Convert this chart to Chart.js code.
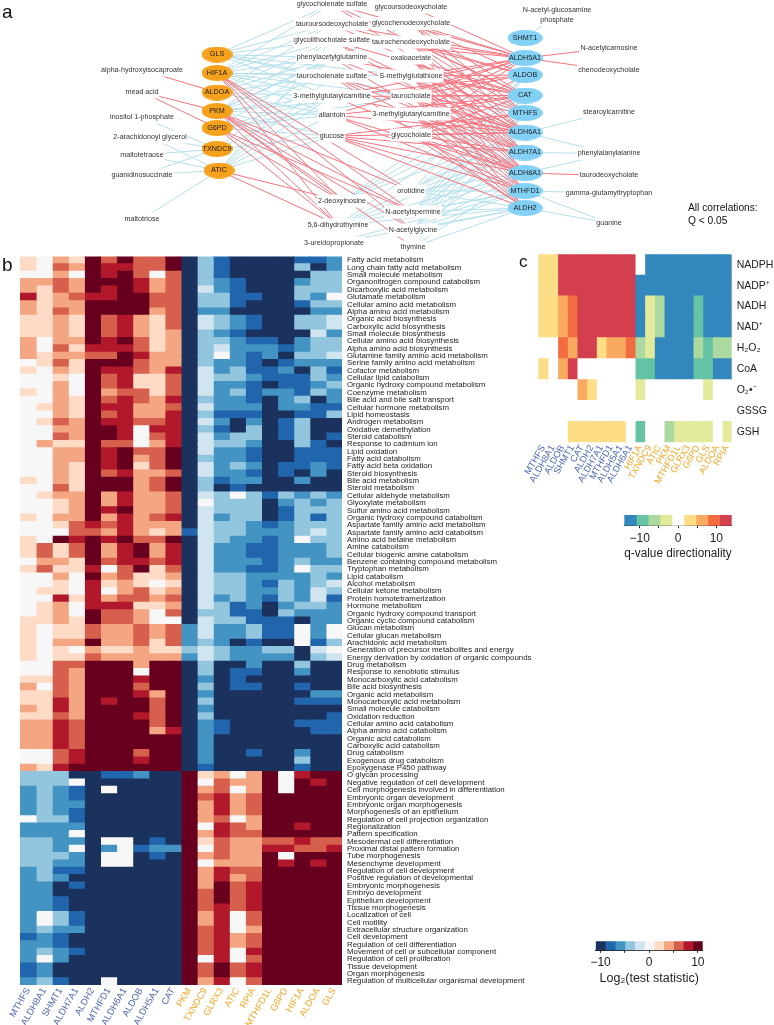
<!DOCTYPE html>
<html>
<head>
<meta charset="utf-8">
<script src="https://cdn.jsdelivr.net/npm/chart.js@4"></script>
<style>
html, body { margin: 0; padding: 0; background: #fff; }
body { position: relative; width: 774px; height: 1025px; overflow: hidden; font-family: "Liberation Sans", Arial, sans-serif; color: #111; }
canvas { position: absolute; }
.tag { position: absolute; line-height: 1; }
</style>
</head>
<body>
<canvas id="network" width="774" height="252" style="left:0px;top:0px"></canvas>
<canvas id="heat-b" width="560" height="769" style="left:0px;top:256px"></canvas>
<canvas id="heat-c" width="264" height="300" style="left:510px;top:254px"></canvas>
<canvas id="scale-c" width="140" height="46" style="left:610px;top:515px"></canvas>
<canvas id="scale-b" width="140" height="45" style="left:585px;top:941px"></canvas>
<div class="tag" style="left:2px;top:2px;font-size:19px">a</div>
<div class="tag" style="left:2px;top:255px;font-size:19px">b</div>
<div class="tag" style="left:519px;top:253px;font-size:17px">c</div>
<div class="tag" style="left:688px;top:202px;font-size:10.2px;line-height:12.5px">All correlations:<br>Q &lt; 0.05</div>
<script>
Chart.defaults.font.family = '"Liberation Sans", Arial, sans-serif';
Chart.defaults.animation = false;
Chart.defaults.responsive = false;
Chart.defaults.plugins.legend.display = false;
Chart.defaults.plugins.tooltip.enabled = false;

//panel a, network
const leftGenes = ['GLS', 'HIF1A', 'ALDOA', 'PKM', 'G6PD', 'TXNDC9', 'ATIC'];
const leftGeneX = [217, 217, 217, 217, 217, 217, 219];
const leftGeneY = [54.5, 73, 92.5, 111, 128, 149, 170.5];
const rightGenes = ['SHMT1', 'ALDH5A1', 'ALDOB', 'CAT', 'MTHFS', 'ALDH6A1', 'ALDH7A1', 'ALDH8A1', 'MTHFD1', 'ALDH2'];
const rightGeneX = [525, 525, 525, 525, 525, 525, 525, 525, 525, 525];
const rightGeneY = [38, 58, 75, 95.5, 113, 132.5, 152.5, 173, 191, 208];

// the * marks the second 3-methylglutarylcarnitine node, it is not printed
const metabolites = [
    'glycocholenate sulfate', 'tauroursodeoxycholate', 'glycolithocholate sulfate', 'phenylacetylglutamine',
    'taurocholenate sulfate', '3-methylglutarylcarnitine', 'allantoin', 'glucose',
    '2-deoxyinosine', '5,6-dihydrothymine', '3-ureidopropionate',
    'glycoursodeoxycholate', 'glycochenodeoxycholate', 'taurochenodeoxycholate', 'oxaloacetate',
    'S-methylglutathione', 'taurocholate', '3-methylglutarylcarnitine*', 'glycocholate',
    'orotidine', 'N-acetylspermine', 'N-acetylglycine', 'thymine',
    'alpha-hydroxyisocaproate', 'mead acid', 'inositol 1-phosphate', '2-arachidonoyl glycerol',
    'maltotetraose', 'guanidinosuccinate', 'maltotriose',
    'N-acetyl-glucosamine\nphosphate', 'N-acetylcarnosine', 'chenodeoxycholate', 'stearoylcarnitine',
    'phenylalanylalanine', 'taurodeoxycholate', 'gamma-glutamyltryptophan', 'guanine'
];
const metaboliteX = [332, 332, 332, 332, 332, 332, 332, 332, 342, 338, 334,
    411, 411, 411, 411, 411, 411, 411, 411, 411, 413, 413, 413,
    142, 142, 142, 150, 142, 142, 142,
    557, 609, 609, 609, 609, 609, 609, 609];
const metaboliteY = [4, 24, 40.5, 57.5, 76, 96.5, 115, 136, 201, 225, 243,
    7, 23.5, 42, 58, 76, 96, 114, 135, 191, 212, 230, 247,
    70, 92, 117, 137, 155, 175, 219,
    15, 48, 70, 112, 153.5, 175.5, 193, 223];

const blueEdges = [
    ['GLS', ['glycocholenate sulfate', 'tauroursodeoxycholate', 'glycolithocholate sulfate', 'phenylacetylglutamine', 'taurocholenate sulfate', '3-methylglutarylcarnitine', 'S-methylglutathione', 'taurocholate']],
    ['HIF1A', ['glycocholenate sulfate', 'tauroursodeoxycholate', 'glycolithocholate sulfate', 'phenylacetylglutamine', 'taurocholenate sulfate', '3-methylglutarylcarnitine', 'allantoin', 'S-methylglutathione', 'taurocholate']],
    ['ALDOA', ['tauroursodeoxycholate', 'glycolithocholate sulfate', 'phenylacetylglutamine', 'taurocholenate sulfate', '3-methylglutarylcarnitine', 'allantoin']],
    ['PKM', ['glycolithocholate sulfate', 'phenylacetylglutamine', 'taurocholenate sulfate', '3-methylglutarylcarnitine', 'allantoin', 'glucose', 'taurocholate', 'glycochenodeoxycholate']],
    ['G6PD', ['phenylacetylglutamine', '3-methylglutarylcarnitine', 'allantoin', 'glucose', 'taurocholate']],
    ['TXNDC9', ['phenylacetylglutamine', '3-methylglutarylcarnitine', 'glucose', 'inositol 1-phosphate', '2-arachidonoyl glycerol', 'maltotetraose', 'guanidinosuccinate']],
    ['ATIC', ['glycolithocholate sulfate', 'phenylacetylglutamine', 'taurocholenate sulfate', '3-methylglutarylcarnitine', 'allantoin', 'glucose', '2-arachidonoyl glycerol', 'maltotetraose', 'guanidinosuccinate', 'maltotriose']],
    ['SHMT1', ['N-acetyl-glucosamine\nphosphate']],
    ['ALDOB', ['2-deoxyinosine', 'orotidine', 'N-acetylspermine', 'N-acetylglycine']],
    ['CAT', ['2-deoxyinosine', 'N-acetylspermine', 'N-acetylglycine', '5,6-dihydrothymine']],
    ['MTHFS', ['2-deoxyinosine', 'orotidine', 'N-acetylspermine', 'N-acetylglycine', 'thymine']],
    ['ALDH6A1', ['2-deoxyinosine', 'orotidine', 'N-acetylspermine', 'N-acetylglycine', '5,6-dihydrothymine', 'stearoylcarnitine', 'phenylalanylalanine']],
    ['ALDH7A1', ['orotidine', 'N-acetylspermine', 'N-acetylglycine', '5,6-dihydrothymine', 'phenylalanylalanine']],
    ['ALDH8A1', ['orotidine', 'N-acetylspermine', 'N-acetylglycine', '5,6-dihydrothymine', 'thymine', 'phenylalanylalanine']],
    ['MTHFD1', ['orotidine', 'N-acetylspermine', 'N-acetylglycine', '5,6-dihydrothymine', '3-ureidopropionate', 'gamma-glutamyltryptophan', 'guanine']],
    ['ALDH2', ['orotidine', 'N-acetylspermine', 'N-acetylglycine', '5,6-dihydrothymine', 'thymine', '3-ureidopropionate', 'guanine']]
];
const redEdges = [
    ['ALDOA', ['alpha-hydroxyisocaproate']],
    ['HIF1A', ['2-deoxyinosine', '5,6-dihydrothymine', 'N-acetylspermine', 'N-acetylglycine', 'orotidine']],
    ['PKM', ['mead acid', '2-deoxyinosine', '5,6-dihydrothymine', 'N-acetylspermine', 'N-acetylglycine', 'orotidine', 'thymine']],
    ['G6PD', ['mead acid', '2-deoxyinosine', '5,6-dihydrothymine', 'N-acetylspermine']],
    ['ATIC', ['2-deoxyinosine', '5,6-dihydrothymine']],
    ['ALDH5A1', ['glycocholenate sulfate', 'tauroursodeoxycholate', 'glycolithocholate sulfate', '3-methylglutarylcarnitine', 'allantoin', 'glycoursodeoxycholate', 'glycochenodeoxycholate', 'taurochenodeoxycholate', 'S-methylglutathione', 'taurocholate', '3-methylglutarylcarnitine*', 'glycocholate', 'N-acetylcarnosine', 'chenodeoxycholate']],
    ['ALDOB', ['tauroursodeoxycholate', '3-methylglutarylcarnitine', 'glycochenodeoxycholate', 'taurochenodeoxycholate', 'S-methylglutathione', 'taurocholate', 'glycocholate']],
    ['CAT', ['glycocholenate sulfate', 'glycolithocholate sulfate', 'phenylacetylglutamine', '3-methylglutarylcarnitine', 'allantoin', 'glycochenodeoxycholate', 'taurochenodeoxycholate', 'oxaloacetate', 'S-methylglutathione', 'taurocholate', '3-methylglutarylcarnitine*', 'glycocholate']],
    ['MTHFS', ['tauroursodeoxycholate', 'glucose', 'glycochenodeoxycholate', 'taurochenodeoxycholate', 'S-methylglutathione', 'taurocholate', 'glycocholate']],
    ['ALDH6A1', ['glycocholenate sulfate', 'glycolithocholate sulfate', 'phenylacetylglutamine', 'taurocholenate sulfate', '3-methylglutarylcarnitine', 'allantoin', 'glucose', 'glycochenodeoxycholate', 'taurochenodeoxycholate', 'oxaloacetate', 'S-methylglutathione', 'taurocholate', '3-methylglutarylcarnitine*', 'glycocholate']],
    ['ALDH7A1', ['glycolithocholate sulfate', 'taurocholenate sulfate', 'glucose', 'taurochenodeoxycholate', 'oxaloacetate', 'S-methylglutathione', 'taurocholate', '3-methylglutarylcarnitine*', 'glycocholate']],
    ['ALDH8A1', ['phenylacetylglutamine', 'taurocholenate sulfate', '3-methylglutarylcarnitine', 'allantoin', 'glucose', 'taurochenodeoxycholate', 'oxaloacetate', 'S-methylglutathione', 'taurocholate', '3-methylglutarylcarnitine*', 'glycocholate', 'taurodeoxycholate']],
    ['MTHFD1', ['allantoin', 'glucose', 'oxaloacetate', 'S-methylglutathione', 'taurocholate', '3-methylglutarylcarnitine*', 'glycocholate']],
    ['ALDH2', ['taurocholenate sulfate', 'glucose', 'S-methylglutathione', 'taurocholate', '3-methylglutarylcarnitine*', 'glycocholate']]
];

//panel b, heatmap
const bGenes = ['MTHFS', 'ALDH8A1', 'SHMT1', 'ALDH7A1', 'ALDH2', 'MTHFD1', 'ALDH6A1', 'ALDOB', 'ALDH5A1', 'CAT',
    'PKM', 'TXNDC9', 'GLRX3', 'ATIC', 'RPIA', 'MTHFD1L', 'G6PD', 'HIF1A', 'ALDOA', 'GLS'];
const bTerms = [
    'Fatty acid metabolism', 'Long chain fatty acid metabolism', 'Small molecule metabolism', 'Organonitrogen compound catabolism',
    'Dicarboxylic acid metabolism', 'Glutamate metabolism', 'Cellular amino acid metabolism', 'Alpha amino acid metabolism',
    'Organic acid biosynthesis', 'Carboxylic acid biosynthesis', 'Small molecule biosynthesis', 'Cellular amino acid biosynthesis',
    'Alpha amino acid biosynthesis', 'Glutamine family amino acid metabolism', 'Serine family amino acid metabolism', 'Cofactor metabolism',
    'Cellular lipid catabolism', 'Organic hydroxy compound metabolism', 'Coenzyme metabolism', 'Bile acid and bile salt transport',
    'Cellular hormone metabolism', 'Lipid homeostasis', 'Androgen metabolism', 'Oxidative demethylation', 'Steroid catabolism',
    'Response to cadmium ion', 'Lipid oxidation', 'Fatty acid catabolism', 'Fatty acid beta oxidation', 'Steroid biosynthesis',
    'Bile acid metabolism', 'Steroid metabolism', 'Cellular aldehyde metabolism', 'Glyoxylate metabolism', 'Sulfur amino acid metabolism',
    'Organic hydroxy compound catabolism', 'Aspartate family amino acid metabolism', 'Aspartate family amino acid catabolism',
    'Amino acid betaine metabolism', 'Amine catabolism', 'Cellular biogenic amine catabolism', 'Benzene containing compound metabolism',
    'Tryptophan metabolism', 'Lipid catabolism', 'Alcohol metabolism', 'Cellular ketone metabolism', 'Protein homotetramerization',
    'Hormone metabolism', 'Organic hydroxy compound transport', 'Organic cyclic compound catabolism', 'Glucan metabolism',
    'Cellular glucan metabolism', 'Arachidonic acid metabolism', 'Generation of precursor metabolites and energy',
    'Energy derivation by oxidation of organic compounds', 'Drug metabolism', 'Response to xenobiotic stimulus',
    'Monocarboxylic acid catabolism', 'Bile acid biosynthesis', 'Organic acid metabolism', 'Monocarboxylic acid metabolism',
    'Small molecule catabolism', 'Oxidation reduction', 'Cellular amino acid catabolism', 'Alpha amino acid catabolism',
    'Organic acid catabolism', 'Carboxylic acid catabolism', 'Drug catabolism', 'Exogenous drug catabolism', 'Epoxygenase P450 pathway',
    'O glycan processing', 'Negative regulation of cell development', 'Cell morphogenesis involved in differentiation',
    'Embryonic organ development', 'Embryonic organ morphogenesis', 'Morphogenesis of an epithelium',
    'Regulation of cell projection organization', 'Regionalization', 'Pattern specification', 'Mesodermal cell differentiation',
    'Proximal distal pattern formation', 'Tube morphogenesis', 'Mesenchyme development', 'Regulation of cell development',
    'Positive regulation of developmental', 'Embryonic morphogenesis', 'Embryo development', 'Epithelium development',
    'Tissue morphogenesis', 'Localization of cell', 'Cell motility', 'Extracellular structure organization', 'Cell development',
    'Regulation of cell differentiation', 'Movement of cell or subcellular component', 'Regulation of cell proliferation',
    'Tissue development', 'Organ morphogenesis', 'Regulation of multicellular organismal development'
];
// colour bin of each cell, -5 to 5, a bin is 2 Log2 units wide
const bValues = [
    [1,0,2,1,5,3,5,3,3,5,-5,-2,-4,-5,-5,-5,-5,-4,-4,-3],
    [1,0,3,2,5,4,4,3,3,5,-5,-2,-4,-5,-5,-5,-5,-2,-5,-3],
    [0,0,2,0,5,4,5,3,0,3,-5,-2,-4,-5,-5,-5,-5,-5,-2,-2],
    [2,2,3,2,5,5,5,4,2,3,-5,-2,-3,-4,-5,-5,-5,-3,-2,-2],
    [2,1,3,2,5,4,5,4,2,3,-5,-1,-3,-4,-5,-5,-5,-2,-2,-2],
    [4,1,2,3,4,4,5,5,3,3,-5,-2,-2,-4,-4,-5,-5,-2,-3,0],
    [2,1,2,2,5,5,5,5,3,3,-5,-2,-2,-4,-5,-5,-5,-4,-2,-2],
    [2,1,3,2,5,5,5,5,2,3,-5,-3,-3,-5,-5,-5,-5,-5,-3,-3],
    [1,1,2,1,5,3,4,2,1,3,-5,-1,-2,-3,-4,-5,-5,-2,-2,-1],
    [1,1,2,1,5,3,4,2,1,3,-5,-1,-2,-3,-4,-5,-5,-2,-2,-1],
    [1,1,2,1,5,3,4,2,1,2,-5,-2,-3,-4,-5,-5,-5,-5,-1,-3],
    [2,0,2,2,5,4,5,3,1,2,-5,-2,-2,-3,-4,-4,-5,-3,-2,-2],
    [2,0,3,1,4,4,4,3,1,2,-5,-2,-1,-3,-3,-3,-4,-3,-2,-2],
    [2,1,2,2,3,3,5,4,2,2,-5,-2,0,-3,-4,-3,-5,-2,-2,-1],
    [0,1,3,1,5,5,5,3,2,2,-5,-2,-3,-3,-4,-5,-4,-3,-3,-3],
    [1,0,2,1,5,4,4,3,2,4,-5,-1,-3,-2,-4,-4,-3,-5,-2,-4],
    [0,0,1,0,5,3,4,1,1,3,-5,-1,-2,-2,-3,-4,-4,-4,-2,-3],
    [0,0,2,0,5,3,4,1,1,3,-5,-1,-3,-3,-4,-5,-4,-4,-3,-2],
    [1,0,2,0,5,2,3,3,1,3,-5,-1,-3,-2,-4,-3,-3,-4,-2,-3],
    [0,0,2,1,5,3,4,3,2,4,-5,-2,-3,-3,-4,-5,-3,-2,-5,-3],
    [0,1,2,1,5,4,4,2,2,3,-5,-1,-3,-3,-3,-5,-3,-3,-4,-4],
    [0,0,2,1,5,3,4,2,2,4,-5,-2,-4,-4,-4,-5,-5,-4,-4,-2],
    [0,1,3,2,5,4,4,3,3,4,-5,-1,-3,-5,-3,-5,-4,-2,-5,-5],
    [0,0,2,2,5,5,4,0,4,4,-5,-2,-4,-5,-2,-5,-4,-2,-5,-5],
    [0,0,3,2,5,5,4,0,3,4,-5,-1,-3,-2,-2,-5,-4,-2,-5,-4],
    [0,2,1,1,5,3,3,0,2,4,-5,-1,-2,-2,-3,-5,-5,-2,-4,-5],
    [0,0,2,2,5,4,5,3,3,5,-5,-1,-3,-3,-4,-5,-5,-4,-4,-4],
    [0,0,2,2,5,4,5,2,3,5,-5,-2,-3,-3,-4,-5,-5,-4,-4,-4],
    [0,0,2,1,5,4,5,1,3,5,-5,-1,-3,-2,-3,-5,-4,-4,-3,-4],
    [0,0,2,1,5,3,4,2,2,3,-5,-1,-3,-3,-4,-5,-4,-5,-3,-5],
    [1,0,2,1,5,5,5,2,3,5,-5,-2,-4,-3,-3,-5,-5,-3,-5,-5],
    [0,0,3,1,5,5,5,2,3,5,-5,-2,-5,-4,-5,-5,-5,-5,-5,-5],
    [0,1,2,2,5,2,4,2,2,3,-5,-1,-2,0,-2,-4,-2,-3,-2,-3],
    [0,0,1,2,5,2,4,2,2,3,-5,0,-2,-2,-2,-5,-3,-2,-3,-2],
    [0,0,1,2,5,4,5,2,2,3,-5,-1,-2,-2,-2,-5,-4,-2,-2,-2],
    [1,0,2,2,5,2,4,2,3,4,-5,-1,-3,-2,-2,-5,-4,-2,-4,-2],
    [0,0,1,3,4,3,4,2,2,2,-5,-1,-2,-2,-3,-4,-3,-2,-2,-2],
    [0,0,0,3,3,2,4,2,1,2,-4,-1,-2,-2,-3,-3,-3,-2,-1,-2],
    [1,0,5,4,5,4,5,3,3,5,-5,-1,-2,-3,-3,-4,-3,0,-2,-2],
    [1,3,1,3,5,2,4,5,2,4,-5,-1,-3,-3,-4,-4,-3,-3,-3,-2],
    [1,3,1,3,5,2,4,5,2,4,-5,-1,-3,-3,-4,-4,-3,-3,-3,-2],
    [0,2,2,1,5,3,4,4,3,4,-5,-1,-3,-3,-3,-4,-3,-2,-3,-3],
    [1,3,1,1,4,0,3,5,1,3,-5,-1,-3,-3,-4,-4,-3,0,-2,-2],
    [0,0,2,0,5,2,3,1,1,2,-5,-1,-2,-2,-3,-3,-3,-3,-2,-3],
    [0,0,1,0,4,1,2,1,0,1,-5,-1,-2,-2,-3,-4,-2,-3,-2,-1],
    [0,1,1,0,4,0,2,3,1,2,-5,-1,-2,-2,-3,-3,-2,-3,-1,-2],
    [0,0,4,1,4,2,3,3,2,3,-5,-1,-3,-2,-3,-4,-2,-3,-1,-4],
    [0,1,2,0,4,4,4,1,1,2,-5,-1,-2,-4,-3,-5,-3,-2,-2,-3],
    [0,1,2,0,5,3,3,2,0,3,-5,-2,-2,-4,-4,-5,-2,-3,-3,-3],
    [1,1,2,1,5,3,3,2,0,0,-5,-1,-2,-2,-4,-4,-4,-5,-3,-3],
    [1,0,1,1,3,2,2,3,2,3,-3,-1,-3,-3,-2,-4,-4,0,-3,0],
    [1,0,1,1,3,2,2,3,2,3,-3,-1,-3,-3,-2,-4,-4,0,-3,0],
    [1,0,2,2,5,2,2,3,1,3,-3,-2,-3,-5,-4,-5,-5,0,-4,-2],
    [1,0,1,0,2,1,1,2,1,1,-2,-1,-2,-3,-3,-2,-2,-5,-1,0],
    [1,0,1,1,3,2,2,2,2,2,-3,-1,-2,-3,-3,-3,-3,-5,-2,-1],
    [0,0,3,3,5,5,5,2,5,5,-5,-2,-5,-5,-3,-5,-5,-2,-5,-5],
    [0,0,3,2,5,5,5,0,5,5,-5,-2,-5,-4,-4,-5,-5,-3,-5,-5],
    [1,1,3,2,5,5,5,4,5,5,-5,-3,-5,-4,-5,-5,-5,-5,-5,-5],
    [2,0,3,2,5,5,5,3,5,5,-5,-2,-5,-4,-4,-5,-5,-4,-5,-5],
    [1,1,3,2,5,5,5,4,2,5,-5,-3,-5,-5,-5,-5,-5,-5,-3,-3],
    [1,1,4,2,5,4,5,5,3,5,-5,-2,-5,-5,-5,-5,-5,-4,-4,-4],
    [2,1,4,2,5,5,5,5,3,5,-5,-3,-5,-5,-5,-5,-5,-5,-5,-5],
    [1,1,3,2,5,5,5,4,3,5,-5,-2,-5,-5,-5,-5,-5,-5,-5,-4],
    [2,2,4,3,5,5,5,5,3,5,-5,-3,-4,-5,-5,-5,-5,-4,-4,-4],
    [2,2,4,3,5,5,5,5,2,4,-5,-3,-4,-5,-5,-5,-5,-5,-4,-4],
    [2,2,4,3,5,5,5,5,5,5,-5,-3,-5,-5,-5,-5,-5,-5,-5,-5],
    [2,2,4,3,5,5,5,5,5,5,-5,-3,-5,-5,-5,-5,-5,-5,-5,-5],
    [0,0,3,4,5,5,5,3,5,5,-5,-3,-5,-5,-4,-5,-5,-3,-5,-5],
    [0,0,3,4,5,5,5,4,5,5,-5,-3,-5,-5,-5,-5,-5,-2,-5,-5],
    [2,1,4,5,5,5,5,5,5,5,-5,-4,-5,-5,-5,-5,-5,-4,-5,-5],
    [-2,-2,-2,-5,-5,-4,-4,-3,-5,-5,5,1,2,0,2,5,0,4,5,5],
    [-2,-2,-2,0,-5,-5,-5,-5,-5,-5,5,0,3,2,2,5,0,5,4,5],
    [-3,-2,-3,-4,-5,0,-5,-5,-5,-5,5,2,3,0,2,5,0,5,5,5],
    [-3,-2,-3,-4,-5,-5,-5,-5,-5,-5,5,3,4,2,3,5,5,5,5,5],
    [-3,-2,-3,-3,-5,-5,-5,-5,-5,-5,5,2,4,2,3,5,5,5,5,5],
    [-3,-2,-3,-4,-5,-5,-5,-5,-5,-5,5,2,4,2,3,5,5,5,5,5],
    [0,-2,-2,-4,-5,-5,-5,-5,-5,-5,5,2,3,0,2,5,5,5,5,5],
    [-3,-3,-3,-3,-5,-5,-5,-5,-5,-5,5,0,4,3,2,5,5,4,5,5],
    [-3,-3,-3,0,-5,-5,-5,-5,-5,-5,5,2,4,3,3,5,5,5,5,5],
    [-2,-2,-3,-3,-5,0,0,-5,-4,-5,5,1,3,2,2,3,3,4,3,3],
    [-2,-2,-3,0,-5,-3,0,-4,-3,-3,5,0,3,2,2,4,4,3,3,4],
    [-2,-2,-2,-3,-5,0,0,-5,-4,-5,5,2,3,2,2,5,0,5,5,5],
    [-2,-2,-3,-3,-5,0,0,-5,-5,-5,5,0,2,2,2,5,4,5,4,5],
    [-3,-2,-4,-4,-5,-5,-5,-5,-5,-5,5,2,4,3,3,5,5,5,5,5],
    [-3,-2,-3,-5,-5,-5,-5,-5,-5,-5,5,2,4,2,3,5,5,5,5,5],
    [-3,-3,-5,-4,-5,-5,-5,-5,-5,-5,5,2,5,3,4,5,5,5,5,5],
    [-3,-3,-5,-5,-5,-5,-5,-5,-5,-5,5,3,5,3,4,5,5,5,5,5],
    [-3,-3,-4,-5,-5,-5,-5,-5,-5,-5,5,3,5,3,4,5,5,5,5,5],
    [-3,-3,-4,-5,-5,-5,-5,-5,-5,-5,5,3,4,3,4,5,5,5,5,5],
    [-3,0,-2,-4,-5,-5,-5,-5,-5,-5,5,2,4,0,3,5,5,5,5,5],
    [-3,0,-2,-4,-5,-5,-5,-5,-5,-5,5,2,4,0,3,5,5,5,5,5],
    [-3,-2,-3,-3,-5,-5,-5,-5,-5,-5,5,3,4,0,2,5,5,5,5,5],
    [-4,-3,-4,-5,-5,-5,-5,-5,-5,-5,5,3,4,2,3,5,5,5,5,5],
    [-3,-3,-4,-5,-5,-5,-5,-5,-5,-5,5,3,4,2,3,5,5,5,5,5],
    [-3,-2,-3,-4,-5,-5,-5,-5,-5,-5,5,3,4,0,4,5,5,5,5,5],
    [-3,0,-3,-5,-5,-5,-5,-5,-5,-5,5,0,4,0,3,5,5,5,5,5],
    [-4,-3,-5,-5,-5,-5,-5,-5,-5,-5,5,3,5,3,4,5,5,5,5,5],
    [-4,-3,-5,-5,-5,-5,-5,-5,-5,-5,5,3,5,3,4,5,5,5,5,5],
    [-3,-2,-4,-5,-5,0,-5,-5,-5,-5,5,2,4,0,3,5,5,5,5,5]
];
const bPalette = ['#1b325f', '#2166ac', '#4393c3', '#92c5de', '#d1e5f0', '#f7f7f7', '#fddbc7', '#f4a582', '#d6604d', '#b2182b', '#67001f'];
const bBreaks = [-11, -9, -7, -5, -3, -1, 1, 3, 5, 7, 9, 11];

//panel c, heatmap
const cGenes = ['MTHFS', 'ALDH8A1', 'ALDOB', 'SHMT1', 'CAT', 'ALDH2', 'ALDH7A1', 'MTHFD1', 'ALDH5A1', 'ALDH6A1',
    'HIF1A', 'TXNDC9', 'ATIC', 'PKM', 'MTHFD1L', 'GLRX3', 'G6PD', 'GLS', 'ALDOA', 'RPIA'];
const cCofactors = ['NADPH', 'NADP⁺', 'NADH', 'NAD⁺', 'H₂O₂', 'CoA', 'O₂•⁻', 'GSSG', 'GSH'];
// colour bin of each cell, -4 to 4, 0 is white
const cValues = [
    [1,1,4,4,4,4,4,4,4,4,0,-4,-4,-4,-4,-4,-4,-4,-4,-4],
    [1,1,4,4,4,4,4,4,4,4,-4,-4,-4,-4,-4,-4,-4,-4,-4,-4],
    [1,1,2,3,4,4,4,4,4,4,-4,-1,-2,-4,-4,-4,-3,-4,-4,-4],
    [1,1,2,3,4,4,4,4,4,4,-4,-1,-2,-4,-4,-4,-3,-4,-4,-4],
    [0,0,3,2,4,4,1,2,2,3,-2,-1,-4,-4,-4,-4,-2,-3,-2,-2],
    [1,0,2,4,0,0,0,0,0,0,-3,-3,-4,-4,-4,-4,-3,-3,-4,-4],
    [0,0,0,0,2,1,0,0,0,0,-1,0,0,0,0,0,0,-1,0,0],
    [0,0,0,0,0,0,0,0,0,0,0,0,0,0,0,0,0,0,0,0],
    [0,0,0,1,1,1,1,1,1,0,-3,0,0,-2,-1,-1,-1,-1,0,-1]
];
const cPalette = ['#3288bd', '#66c2a5', '#abd9a0', '#e4ea9c', '#ffffff', '#fddd85', '#faa961', '#f36b40', '#d43f50'];
const cBreaks = [-14, -10.89, -7.78, -4.67, -1.56, 1.56, 4.67, 7.78, 10.89, 14];

const geneBlue = '#4d66b5';
const geneOrange = '#f5a524';

function nodePos(name) {
    let i = leftGenes.indexOf(name);
    if (i >= 0) return {x: leftGeneX[i], y: leftGeneY[i]};
    i = rightGenes.indexOf(name);
    if (i >= 0) return {x: rightGeneX[i], y: rightGeneY[i]};
    i = metabolites.indexOf(name);
    return {x: metaboliteX[i], y: metaboliteY[i]};
}

function edgePoints(edges) {
    const out = [];
    edges.forEach(function (e) {
        e[1].forEach(function (m) {
            out.push(nodePos(e[0]), nodePos(m), {x: NaN, y: NaN});
        });
    });
    return out;
}

function ellipse(w, h, color) {
    const c = document.createElement('canvas');
    c.width = w;
    c.height = h;
    const ctx = c.getContext('2d');
    ctx.fillStyle = color;
    ctx.beginPath();
    ctx.ellipse(w / 2, h / 2, w / 2, h / 2, 0, 0, Math.PI * 2);
    ctx.fill();
    return c;
}

const networkLabels = {
    id: 'networkLabels',
    afterDatasetDraw(chart, args) {
        // red edges are finished here, nodes still come on top
        if (args.index !== 2) return;
        const ctx = chart.ctx;
        ctx.save();
        ctx.font = '7.15px "Liberation Sans", Arial, sans-serif';
        ctx.textAlign = 'center';
        ctx.textBaseline = 'middle';
        metabolites.forEach(function (name, i) {
            const lines = name.replace('*', '').split('\n');
            const px = chart.scales.x.getPixelForValue(metaboliteX[i]);
            const py = chart.scales.y.getPixelForValue(metaboliteY[i]);
            const w = Math.max.apply(null, lines.map(l => ctx.measureText(l).width)) + 2;
            const h = 13 + (lines.length - 1) * 9;
            ctx.fillStyle = '#fff';
            ctx.fillRect(px - w / 2, py - h / 2, w, h);
            ctx.fillStyle = '#333';
            lines.forEach(function (l, k) {
                ctx.fillText(l, px, py + (k - (lines.length - 1) / 2) * 9.5);
            });
        });
        ctx.restore();
    },
    afterDatasetsDraw(chart) {
        const ctx = chart.ctx;
        ctx.save();
        ctx.font = '7.2px "Liberation Sans", Arial, sans-serif';
        ctx.textAlign = 'center';
        ctx.textBaseline = 'middle';
        ctx.fillStyle = '#1c1c1c';
        leftGenes.concat(rightGenes).forEach(function (g) {
            const p = nodePos(g);
            ctx.fillText(g, chart.scales.x.getPixelForValue(p.x), chart.scales.y.getPixelForValue(p.y));
        });
        ctx.restore();
    }
};

var networkChart = new Chart(document.getElementById('network'), {
    type: 'scatter',
    data: {
        datasets: [{
            data: leftGenes.map(nodePos),
            pointStyle: ellipse(31, 16, '#f5a11b'),
            pointRadius: 10
        }, {
            data: rightGenes.map(nodePos),
            pointStyle: ellipse(35, 16, '#83d0f5'),
            pointRadius: 10
        }, {
            data: edgePoints(redEdges),
            showLine: true,
            borderColor: '#f5747f',
            borderWidth: 1,
            pointRadius: 0,
            spanGaps: false
        }, {
            data: edgePoints(blueEdges),
            showLine: true,
            borderColor: '#b4e0ea',
            borderWidth: 1,
            pointRadius: 0,
            spanGaps: false
        }]
    },
    options: {
        layout: {padding: 0, autoPadding: false},
        scales: {
            x: {display: false, min: 0, max: 774},
            y: {display: false, min: 0, max: 252, reverse: true}
        }
    },
    plugins: [networkLabels]
});

// one stacked horizontal bar of width 1 per cell
function heatConfig(rows, rowNames, genes, palette, zero, opts) {
    const datasets = genes.map(function (g, c) {
        return {
            label: g,
            data: rows.map(() => 1),
            backgroundColor: rows.map(r => palette[r[c] + zero]),
            barPercentage: 1,
            categoryPercentage: 1,
            borderWidth: 0,
            inflateAmount: 0.5
        };
    });
    return {
        type: 'bar',
        data: {labels: rowNames, datasets: datasets},
        options: {
            indexAxis: 'y',
            layout: {padding: {left: opts.left, top: opts.top, right: 0, bottom: 0}},
            scales: {
                x: {
                    stacked: true,
                    min: 0,
                    max: genes.length,
                    grid: {display: false, drawTicks: false},
                    border: {display: false},
                    afterBuildTicks(scale) {
                        scale.ticks = genes.map((g, i) => ({value: i + 0.5}));
                    },
                    afterFit(scale) {
                        scale.height = opts.bottom;
                        scale.paddingLeft = 0;
                        scale.paddingRight = 0;
                    },
                    ticks: {
                        autoSkip: false,
                        minRotation: 60,
                        maxRotation: 60,
                        padding: 1,
                        font: {size: 9.3},
                        callback: (v, i) => genes[i],
                        color: ctx => ctx.index < 10 ? geneBlue : geneOrange
                    }
                },
                y: {
                    stacked: true,
                    position: 'right',
                    grid: {display: false, drawTicks: false},
                    border: {display: false},
                    afterFit(scale) {
                        scale.width = opts.right;
                        scale.paddingTop = 0;
                        scale.paddingBottom = 0;
                    },
                    ticks: {autoSkip: false, padding: opts.pad, color: '#222', font: {size: opts.size}}
                }
            }
        }
    };
}

var heatB = new Chart(document.getElementById('heat-b'),
    heatConfig(bValues, bTerms, bGenes, bPalette, 5, {left: 20, top: 0.5, bottom: 40, right: 218, pad: 5, size: 7.85}));
var heatC = new Chart(document.getElementById('heat-c'),
    heatConfig(cValues, cCofactors, cGenes, cPalette, 4, {left: 28.3, top: 0.3, bottom: 111.7, right: 42.3, pad: 5, size: 10.5}));

// colour key: one floating bar per colour
function keyConfig(breaks, palette, title, area, left, right, top) {
    const datasets = palette.map(function (col, i) {
        return {
            data: [[breaks[i], breaks[i + 1]]],
            backgroundColor: col,
            barPercentage: 1,
            categoryPercentage: 1
        };
    });
    return {
        type: 'bar',
        data: {labels: [''], datasets: datasets},
        options: {
            indexAxis: 'y',
            layout: {padding: {left: left, right: right, top: top, bottom: 0}},
            scales: {
                x: {
                    min: breaks[0],
                    max: breaks[breaks.length - 1],
                    grid: {drawOnChartArea: false, tickLength: 2.5, color: '#222'},
                    border: {display: true, color: '#222'},
                    afterFit(scale) {
                        scale.height = area;
                        scale.paddingLeft = 0;
                        scale.paddingRight = 0;
                    },
                    ticks: {
                        stepSize: 5,
                        includeBounds: false,
                        autoSkip: false,
                        maxRotation: 0,
                        padding: 3,
                        color: '#222',
                        font: {size: 12},
                        callback: v => v === 0 ? '0' : (Math.abs(v) === 10 ? (v < 0 ? '−10' : '10') : '')
                    },
                    title: {display: true, text: title, color: '#222', font: {size: 12.5}, padding: {top: 1, bottom: 0}}
                },
                y: {display: false, stacked: true}
            }
        }
    };
}

var keyC = new Chart(document.getElementById('scale-c'),
    keyConfig(cBreaks, cPalette, 'q-value directionality', 35.3, 14.3, 18.3, 0));
var keyB = new Chart(document.getElementById('scale-b'),
    keyConfig(bBreaks, bPalette, 'Log₂(test statistic)', 35.7, 10.7, 22.3, 0.3));
</script>
</body>
</html>
